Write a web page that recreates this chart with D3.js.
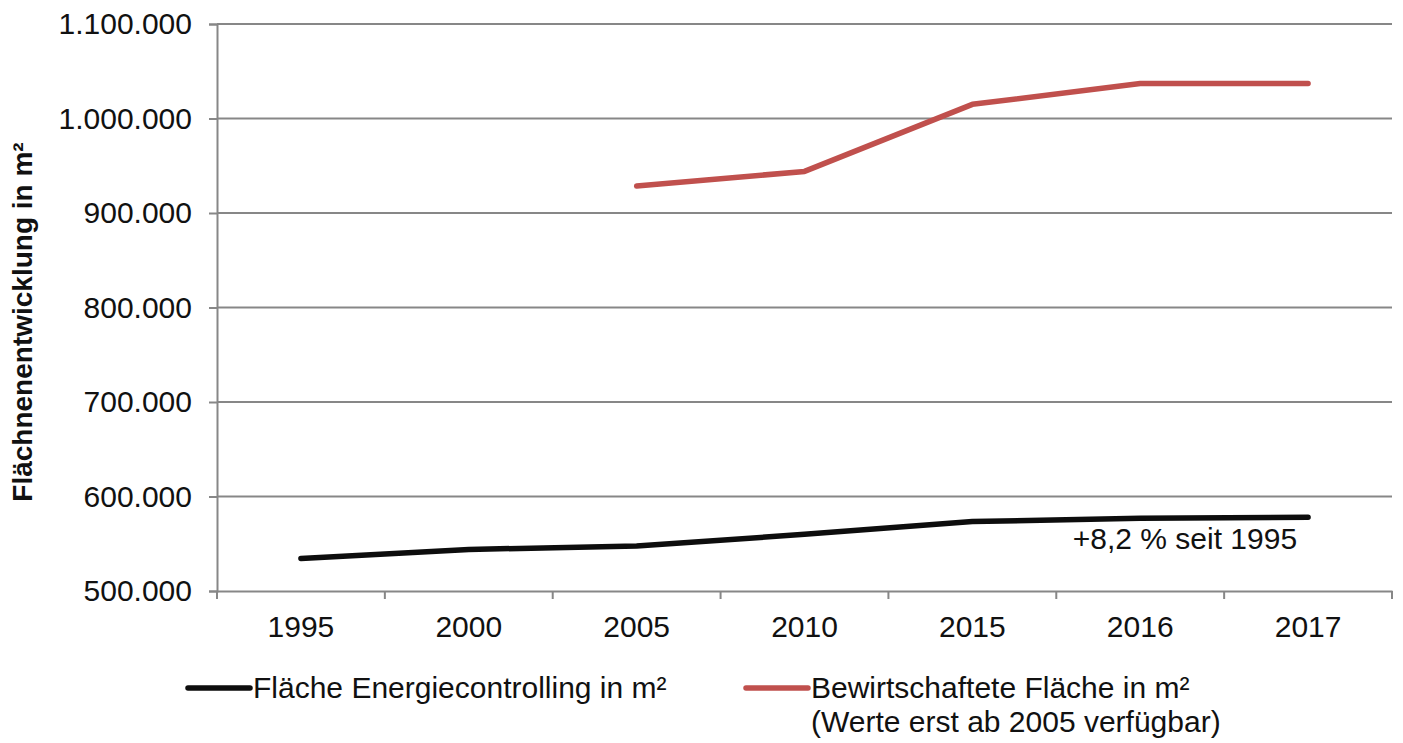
<!DOCTYPE html>
<html>
<head>
<meta charset="utf-8">
<script src="https://cdn.jsdelivr.net/npm/d3@7"></script>
<style>
  html, body { margin: 0; padding: 0; background: #fff; }
  svg { display: block; font-family: "Liberation Sans", Arial, sans-serif; }
</style>
</head>
<body>
<svg id="chart" width="1403" height="743"></svg>
<script>
// Years on the category axis
const years = ["1995", "2000", "2005", "2010", "2015", "2016", "2017"];

// Area tracked in energy controlling (m²)
const energiecontrolling = [534500, 544000, 547500, 560000, 573500, 577000, 578000];

// Managed area (m²), only available from 2005 onwards
const bewirtschaftet = [null, null, 928500, 944000, 1015000, 1037000, 1037000];

// Y axis ticks
const yTicks = [500000, 600000, 700000, 800000, 900000, 1000000, 1100000];

const seriesNames = ["Fläche Energiecontrolling in m²", "Bewirtschaftete Fläche in m²"];
const legendNote = "(Werte erst ab 2005 verfügbar)";
const annotation = "+8,2 % seit 1995";

const svg = d3.select("#chart");
const plotLeft = 217, plotRight = 1392, plotTop = 24, plotBottom = 591;
const fontSize = 30;

const x = d3.scaleBand().domain(years).range([plotLeft, plotRight]).padding(0);
const y = d3.scaleLinear().domain([500000, 1100000]).range([plotBottom, plotTop]);

const fmt = v => d3.format(",")(v).replace(/,/g, ".");
const gridColor = "#878787";

// Horizontal gridlines
svg.append("g")
  .selectAll("line")
  .data(yTicks.filter(d => d > 500000))
  .join("line")
  .attr("x1", plotLeft).attr("x2", plotRight)
  .attr("y1", d => y(d)).attr("y2", d => y(d))
  .attr("stroke", gridColor).attr("stroke-width", 2);

// Y axis
const yAxis = svg.append("g")
  .attr("transform", `translate(${plotLeft},0)`)
  .call(d3.axisLeft(y).tickValues(yTicks).tickFormat(fmt).tickSize(8).tickPadding(17));
yAxis.select(".domain").attr("stroke", gridColor).attr("stroke-width", 2);
yAxis.selectAll(".tick line").attr("stroke", gridColor).attr("stroke-width", 2);
yAxis.selectAll(".tick text")
  .attr("font-size", fontSize).attr("fill", "#111")
  .attr("font-family", "'Liberation Sans', Arial, sans-serif");

// X axis with tick marks at category boundaries
const xAxis = svg.append("g")
  .attr("transform", `translate(0,${plotBottom})`)
  .call(d3.axisBottom(x).tickSize(0).tickPadding(25));
xAxis.select(".domain").attr("stroke", gridColor).attr("stroke-width", 2);
xAxis.selectAll(".tick text")
  .attr("font-size", fontSize).attr("fill", "#111")
  .attr("font-family", "'Liberation Sans', Arial, sans-serif");
svg.append("g")
  .selectAll("line")
  .data(years.concat(["end"]))
  .join("line")
  .attr("x1", (d, i) => plotLeft + i * x.bandwidth())
  .attr("x2", (d, i) => plotLeft + i * x.bandwidth())
  .attr("y1", plotBottom).attr("y2", plotBottom + 8)
  .attr("stroke", gridColor).attr("stroke-width", 2);

// Y axis title
svg.append("text")
  .attr("transform", `translate(32,322) rotate(-90)`)
  .attr("text-anchor", "middle")
  .attr("font-size", 28).attr("font-weight", "bold").attr("fill", "#111")
  .text("Flächnenentwicklung in m²");

// Series lines
const line = d3.line()
  .defined(d => d.v != null)
  .x(d => x(d.year) + x.bandwidth() / 2)
  .y(d => y(d.v));

const series = [
  { values: energiecontrolling, color: "#0d0d0d" },
  { values: bewirtschaftet, color: "#c0504d" }
];

series.forEach(s => {
  svg.append("path")
    .datum(years.map((yr, i) => ({ year: yr, v: s.values[i] })))
    .attr("d", line)
    .attr("fill", "none")
    .attr("stroke", s.color)
    .attr("stroke-width", 5.5)
    .attr("stroke-linecap", "round")
    .attr("stroke-linejoin", "round");
});

// Growth annotation under the last point
svg.append("text")
  .attr("x", x("2017") + x.bandwidth() / 2 - 11)
  .attr("y", y(energiecontrolling[6]) + 32)
  .attr("text-anchor", "end")
  .attr("font-size", fontSize).attr("fill", "#111")
  .text(annotation);

// Legend
const legend = [
  { name: seriesNames[0], color: "#0d0d0d", x0: 188, note: null },
  { name: seriesNames[1], color: "#c0504d", x0: 746, note: legendNote }
];
legend.forEach(l => {
  svg.append("line")
    .attr("x1", l.x0).attr("x2", l.x0 + 62)
    .attr("y1", 688).attr("y2", 688)
    .attr("stroke", l.color).attr("stroke-width", 5.5)
    .attr("stroke-linecap", "round");
  svg.append("text")
    .attr("x", l.x0 + 65).attr("y", 698)
    .attr("font-size", fontSize).attr("fill", "#111")
    .text(l.name);
  if (l.note) {
    svg.append("text")
      .attr("x", l.x0 + 65).attr("y", 732)
      .attr("font-size", fontSize).attr("fill", "#111")
      .text(l.note);
  }
});
</script>
</body>
</html>
